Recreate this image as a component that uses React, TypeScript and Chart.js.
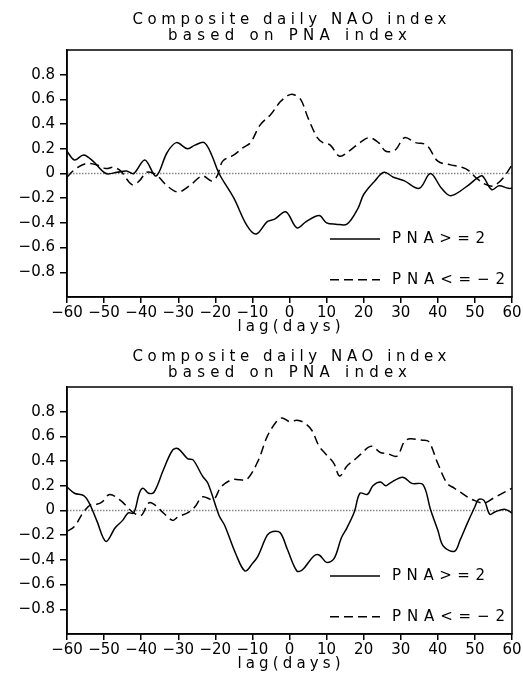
import React, { useEffect, useRef } from 'react';
import { Chart, registerables } from 'chart.js';

Chart.register(...registerables);

// ---------- text ----------
const TITLE_LINES = ['Composite daily NAO index', 'based on PNA index'];
const X_LABEL = 'lag(days)';
const SERIES_LABELS = ['PNA>=2', 'PNA<=\u22122'];

// ---------- ticks ----------
const X_TICKS = [-60, -50, -40, -30, -20, -10, 0, 10, 20, 30, 40, 50, 60];
const Y_TICKS = [-0.8, -0.6, -0.4, -0.2, 0, 0.2, 0.4, 0.6, 0.8];

// ---------- top panel ----------
const topPosLag = [-60, -58, -55.5, -53, -49.5, -46.5, -44, -42, -39, -36, -33, -30.5, -27.5, -25.5, -23, -21, -19, -15, -11.5, -9, -6, -4, -1, 2, 4.5, 8, 10, 12.5, 15.5, 18.5, 20, 23, 25.5, 28, 31, 35, 38, 41, 43.5, 48, 50.5, 52, 54.5, 56.5, 59, 60];
const topPosVal = [0.18, 0.11, 0.15, 0.10, 0.0, 0.01, 0.02, 0.0, 0.11, -0.02, 0.17, 0.25, 0.20, 0.23, 0.25, 0.15, 0.0, -0.20, -0.42, -0.49, -0.39, -0.37, -0.31, -0.44, -0.39, -0.34, -0.40, -0.41, -0.41, -0.28, -0.17, -0.06, 0.01, -0.03, -0.06, -0.12, 0.0, -0.12, -0.18, -0.10, -0.04, -0.02, -0.13, -0.10, -0.12, -0.12];

const topNegLag = [-60, -58, -55, -52, -49.5, -47.5, -45.5, -42.5, -40.5, -38.5, -36, -33, -30, -27, -23.5, -21, -19.5, -18, -15, -12.5, -10.5, -8, -5, -2.5, -0.5, 1, 3, 5, 7.5, 9, 11, 13.5, 16, 19, 21.5, 24, 26, 28.5, 31, 34, 37, 40, 43.5, 46.5, 48.5, 50.5, 53, 55, 57.5, 60];
const topNegVal = [-0.03, 0.03, 0.08, 0.07, 0.04, 0.05, 0.02, -0.09, -0.06, 0.01, -0.01, -0.10, -0.15, -0.10, -0.02, -0.06, -0.02, 0.10, 0.15, 0.21, 0.25, 0.39, 0.48, 0.58, 0.63, 0.64, 0.60, 0.45, 0.29, 0.25, 0.23, 0.14, 0.18, 0.25, 0.29, 0.25, 0.18, 0.19, 0.29, 0.25, 0.23, 0.10, 0.07, 0.05, 0.02, -0.04, -0.09, -0.10, -0.04, 0.07];

// ---------- bottom panel ----------
const botPosLag = [-60, -58, -55.5, -54, -52, -49.5, -47, -45, -43.5, -42, -40.5, -39.5, -38, -36.5, -34, -31.5, -30, -27.5, -26, -23.5, -22, -19, -17.5, -14.5, -12, -10, -8.5, -6, -4.5, -2.5, -0.5, 2, 3.5, 6.5, 8, 10, 12, 14, 15.5, 17.5, 19, 21, 22.5, 24.5, 26, 27, 30.5, 33, 36, 38, 40, 41.5, 44.5, 46, 48, 50, 51, 52.5, 54, 55.5, 58, 60];
const botPosVal = [0.19, 0.14, 0.12, 0.06, -0.08, -0.25, -0.14, -0.08, -0.02, -0.02, 0.14, 0.18, 0.14, 0.15, 0.33, 0.49, 0.50, 0.42, 0.41, 0.28, 0.22, -0.04, -0.12, -0.35, -0.49, -0.43, -0.37, -0.20, -0.17, -0.18, -0.32, -0.49, -0.48, -0.37, -0.36, -0.42, -0.39, -0.22, -0.14, -0.01, 0.14, 0.13, 0.20, 0.23, 0.20, 0.22, 0.27, 0.22, 0.21, 0.01, -0.16, -0.29, -0.33, -0.24, -0.10, 0.03, 0.09, 0.08, -0.03, -0.01, 0.01, -0.02];

const botNegLag = [-60, -58, -55.5, -53.5, -52, -50.5, -48.5, -45.5, -43.5, -42, -40, -38, -36.5, -34, -31.5, -30, -27.5, -25.5, -23.5, -20.5, -18.5, -15.5, -13.5, -11.5, -8.5, -6, -3.5, -2, 0, 2, 4, 6, 8, 10, 12, 13.5, 15.5, 17.5, 19, 22, 24.5, 26.5, 29, 31, 32.5, 35.5, 37.5, 40, 42.5, 44.5, 46, 48.5, 50, 52.5, 55, 57.5, 60];
const botNegVal = [-0.17, -0.13, -0.01, 0.05, 0.05, 0.07, 0.13, 0.08, 0.02, -0.02, -0.04, 0.06, 0.05, -0.02, -0.08, -0.05, -0.02, 0.03, 0.11, 0.09, 0.19, 0.25, 0.25, 0.25, 0.40, 0.60, 0.72, 0.75, 0.72, 0.73, 0.71, 0.65, 0.52, 0.45, 0.38, 0.28, 0.36, 0.41, 0.45, 0.52, 0.47, 0.46, 0.44, 0.56, 0.58, 0.57, 0.56, 0.38, 0.22, 0.18, 0.15, 0.10, 0.08, 0.06, 0.10, 0.14, 0.18];

// ---------- styling ----------
const FONT_FAMILY = 'DejaVu Sans';
const FONT_SIZE = 15;
const DASH = [9, 5];

const fmtNum = (v: number, digits: number) => {
  const s = Math.abs(v) < 1e-9 ? '0' : digits > 0 ? v.toFixed(digits) : String(v);
  return s.replace('-', '\u2212');
};

function drawSpaced(ctx: CanvasRenderingContext2D, text: string, left: number, width: number, y: number) {
  ctx.save();
  ctx.textAlign = 'left';
  const n = Array.from(text).length;
  const w0 = ctx.measureText(text).width;
  const ls = n > 1 ? (width - w0) / (n - 1) : 0;
  const anyCtx = ctx as any;
  if ('letterSpacing' in anyCtx) {
    anyCtx.letterSpacing = ls + 'px';
  }
  ctx.fillText(text, left, y);
  ctx.restore();
}

const decor = {
  id: 'decor',
  beforeDatasetsDraw(chart: any) {
    const { ctx, chartArea: a, scales } = chart;
    const y0 = scales.y.getPixelForValue(0);
    ctx.save();
    ctx.strokeStyle = '#888';
    ctx.lineWidth = 1.5;
    ctx.setLineDash([1.5, 1.5]);
    ctx.beginPath();
    ctx.moveTo(a.left, y0);
    ctx.lineTo(a.right, y0);
    ctx.stroke();
    ctx.restore();
  },
  afterDraw(chart: any) {
    const { ctx, chartArea: a } = chart;
    const cx = (a.left + a.right) / 2;
    ctx.save();
    // frame
    ctx.strokeStyle = '#000';
    ctx.lineWidth = 1.5;
    ctx.strokeRect(a.left, a.top, a.right - a.left, a.bottom - a.top);

    ctx.fillStyle = '#000';
    ctx.font = `${FONT_SIZE}px "${FONT_FAMILY}"`;
    ctx.textBaseline = 'alphabetic';
    // titles
    drawSpaced(ctx, TITLE_LINES[0], cx - 157, 314, a.top - 26);
    drawSpaced(ctx, TITLE_LINES[1], cx - 121.5, 239, a.top - 10);
    // x axis title
    drawSpaced(ctx, X_LABEL, cx - 52, 103, a.bottom + 34);

    // legend
    const h = a.bottom - a.top;
    const rows = [
      { y: a.top + h * 0.765, ds: chart.data.datasets[0], w: 93 },
      { y: a.top + h * 0.93, ds: chart.data.datasets[1], w: 113 },
    ];
    ctx.textBaseline = 'middle';
    for (const r of rows) {
      ctx.save();
      ctx.strokeStyle = r.ds.borderColor;
      ctx.lineWidth = r.ds.borderWidth;
      ctx.setLineDash(r.ds.borderDash || []);
      ctx.beginPath();
      ctx.moveTo(a.right - 182, r.y);
      ctx.lineTo(a.right - 132, r.y);
      ctx.stroke();
      ctx.restore();
      drawSpaced(ctx, r.ds.label, a.right - 120, r.w, r.y);
    }
    ctx.restore();
  },
};

type PanelProps = { posLag: number[]; posVal: number[]; negLag: number[]; negVal: number[] };

function Panel({ posLag, posVal, negLag, negVal }: PanelProps) {
  const ref = useRef<HTMLCanvasElement>(null);
  useEffect(() => {
    if (!ref.current) return;
    const font = { family: FONT_FAMILY, size: FONT_SIZE };
    const chart = new Chart(ref.current, {
      type: 'line',
      data: {
        datasets: [
          {
            label: SERIES_LABELS[0],
            data: posLag.map((x, i) => ({ x, y: posVal[i] })),
            borderColor: '#000',
            borderWidth: 1.5,
            pointRadius: 0,
            tension: 0.35,
            fill: false,
          },
          {
            label: SERIES_LABELS[1],
            data: negLag.map((x, i) => ({ x, y: negVal[i] })),
            borderColor: '#000',
            borderWidth: 1.5,
            borderDash: DASH,
            pointRadius: 0,
            tension: 0.35,
            fill: false,
          },
        ],
      },
      options: {
        responsive: false,
        animation: false,
        devicePixelRatio: 1,
        layout: { padding: { top: 50, right: 11, left: 0, bottom: 0 } },
        plugins: {
          legend: { display: false },
          tooltip: { enabled: false },
          title: { display: false },
        },
        scales: {
          x: {
            type: 'linear',
            min: -60,
            max: 60,
            afterBuildTicks: (s: any) => {
              s.ticks = X_TICKS.map((v) => ({ value: v }));
            },
            afterFit: (s: any) => {
              s.height = 40;
            },
            ticks: {
              autoSkip: false,
              maxRotation: 0,
              font,
              color: '#000',
              padding: 1,
              callback: (v: any) => fmtNum(Number(v), 0),
            },
            grid: {
              drawOnChartArea: false,
              drawTicks: true,
              tickLength: 6,
              tickColor: '#000',
              color: '#000',
              lineWidth: 1.5,
            },
            border: { display: true, color: '#000', width: 1.5 },
          },
          y: {
            type: 'linear',
            min: -1,
            max: 1,
            afterBuildTicks: (s: any) => {
              s.ticks = Y_TICKS.map((v) => ({ value: v }));
            },
            afterFit: (s: any) => {
              s.width = 67;
            },
            ticks: {
              autoSkip: false,
              font,
              color: '#000',
              padding: 5,
              callback: (v: any) => fmtNum(Number(v), 1),
            },
            grid: {
              drawOnChartArea: false,
              drawTicks: true,
              tickLength: 7,
              tickColor: '#000',
              color: '#000',
              lineWidth: 1.5,
            },
            border: { display: true, color: '#000', width: 1.5 },
          },
        },
      },
      plugins: [decor],
    } as any);
    return () => chart.destroy();
  }, []);
  return <canvas ref={ref} width={523} height={337} style={{ display: 'block', width: 523, height: 337 }} />;
}

export default function App() {
  return (
    <div style={{ position: 'absolute', left: 0, top: 0, width: 523, height: 675, background: '#fff' }}>
      <Panel posLag={topPosLag} posVal={topPosVal} negLag={topNegLag} negVal={topNegVal} />
      <Panel posLag={botPosLag} posVal={botPosVal} negLag={botNegLag} negVal={botNegVal} />
    </div>
  );
}
